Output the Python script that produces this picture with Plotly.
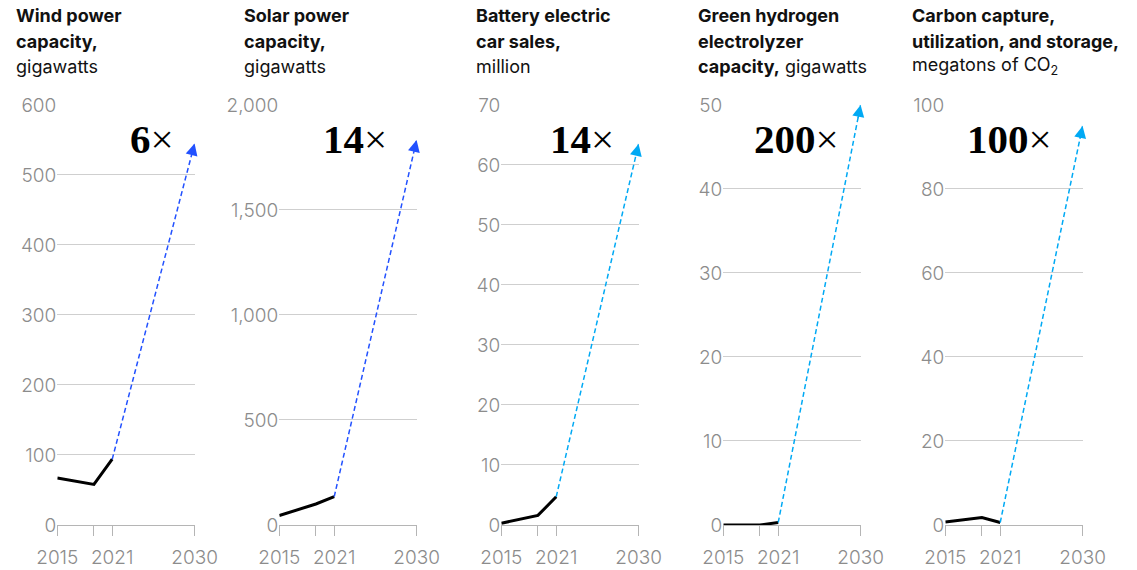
import plotly.graph_objects as go

W, H = 1137, 570

years = [2015, 2019, 2021]
target_year = 2030

title_lines = [
    ["<b>Wind power</b>", "<b>capacity,</b>", "gigawatts"],
    ["<b>Solar power</b>", "<b>capacity,</b>", "gigawatts"],
    ["<b>Battery electric</b>", "<b>car sales,</b>", "million"],
    ["<b>Green hydrogen</b>", "<b>electrolyzer</b>", "<b>capacity,</b> gigawatts"],
    ["<b>Carbon capture,</b>", "<b>utilization, and storage,</b>", "megatons of CO<sub>2</sub>"],
]
wind = [67, 58, 94]
solar = [45, 100, 135]
battery = [0.3, 1.6, 4.7]
hydrogen = [0.0, 0.0, 0.3]
carbon = [0.7, 1.8, 0.6]
series = [wind, solar, battery, hydrogen, carbon]
targets_2030 = [545, 1833, 63.5, 50, 95]
multipliers = ["6", "14", "14", "200", "100"]
y_max = [600, 2000, 70, 50, 100]
y_step = [100, 500, 10, 10, 20]

x_ticks = [2015, 2019, 2021, 2030]
x_ticktext = ["2015", "", "2021", "2030"]

# style
BLUE = "#2251FF"
CYAN = "#00A9F4"
colors = [BLUE, BLUE, CYAN, CYAN, CYAN]
panel_left_px = [57.3, 279.3, 501.3, 723.3, 945.3]
panel_width_px = 137.3
title_left_px = [14, 242, 474, 696, 910]
title_line_y_px = [16, 41, 66]
mult_shift = [-19, -28, -23, -20, -29]
y0_px, y1_px = 525, 104.5
GRAY_TXT = "#8c8c8c"
GRID = "#cfcfcf"
AXIS = "#b5b5b5"
TICKFONT = dict(family="Inter, Liberation Sans, Arial", size=19, color=GRAY_TXT, weight=300)

fig = go.Figure()
layout = dict(
    width=W, height=H,
    margin=dict(l=0, r=0, t=0, b=0, autoexpand=False),
    paper_bgcolor="white", plot_bgcolor="white",
    showlegend=False,
    annotations=[],
)

for i in range(5):
    n = "" if i == 0 else str(i + 1)
    xa, ya = "x" + n, "y" + n
    vals = series[i]
    c = colors[i]
    # historical
    fig.add_trace(go.Scatter(
        x=years, y=vals, mode="lines", xaxis=xa, yaxis=ya,
        line=dict(color="black", width=3), cliponaxis=False, hoverinfo="skip"))
    # projection
    fig.add_trace(go.Scatter(
        x=[years[-1], target_year], y=[vals[-1], targets_2030[i]], mode="lines",
        xaxis=xa, yaxis=ya, line=dict(color=c, width=1.5, dash="5px,3px"),
        cliponaxis=False, hoverinfo="skip"))
    frac = 0.965
    layout["annotations"].append(dict(
        x=target_year, y=targets_2030[i], xref=xa, yref=ya,
        axref=xa, ayref=ya,
        ax=years[-1] + frac * (target_year - years[-1]),
        ay=vals[-1] + frac * (targets_2030[i] - vals[-1]),
        text="", showarrow=True, arrowhead=2, arrowsize=1.6, arrowwidth=1.5,
        arrowcolor=c, standoff=0))
    # multiplier
    layout["annotations"].append(dict(
        x=target_year, xref=xa, xanchor="right", xshift=mult_shift[i],
        y=(H - 139) / H, yref="paper", yanchor="middle",
        text="<b>" + multipliers[i] + "</b>×", showarrow=False,
        font=dict(family="Liberation Serif, Times New Roman, serif", size=41, color="black")))
    # title lines
    for k, line in enumerate(title_lines[i]):
        layout["annotations"].append(dict(
            x=title_left_px[i] / W, xref="paper", xanchor="left", align="left",
            y=(H - title_line_y_px[k]) / H, yref="paper", yanchor="middle",
            text=line, showarrow=False,
            font=dict(family="Inter, Liberation Sans, Arial", size=18, color="#111")))

    xd = [panel_left_px[i] / W, (panel_left_px[i] + panel_width_px) / W]
    yd = [(H - y0_px) / H, (H - y1_px) / H]
    yticks = list(range(0, y_max[i] + 1, y_step[i]))
    layout["xaxis" + n] = dict(
        domain=xd, range=[2015, 2030], anchor=ya, automargin=False,
        tickvals=x_ticks, ticktext=x_ticktext, ticks="outside", ticklen=10,
        tickcolor=AXIS, tickwidth=1, showline=True, linecolor=AXIS, linewidth=1,
        showgrid=False, zeroline=False, tickfont=TICKFONT, layer="below traces",
        ticklabelstandoff=5, fixedrange=True)
    layout["yaxis" + n] = dict(
        domain=yd, range=[0, y_max[i] * 1.001], anchor=xa, automargin=False,
        tickvals=yticks, tickformat=",", ticks="", showline=False,
        showgrid=True, gridcolor=GRID, gridwidth=1, zeroline=False,
        tickfont=TICKFONT, layer="below traces", fixedrange=True)

fig.update_layout(**layout)
fig.write_html("out.html")
